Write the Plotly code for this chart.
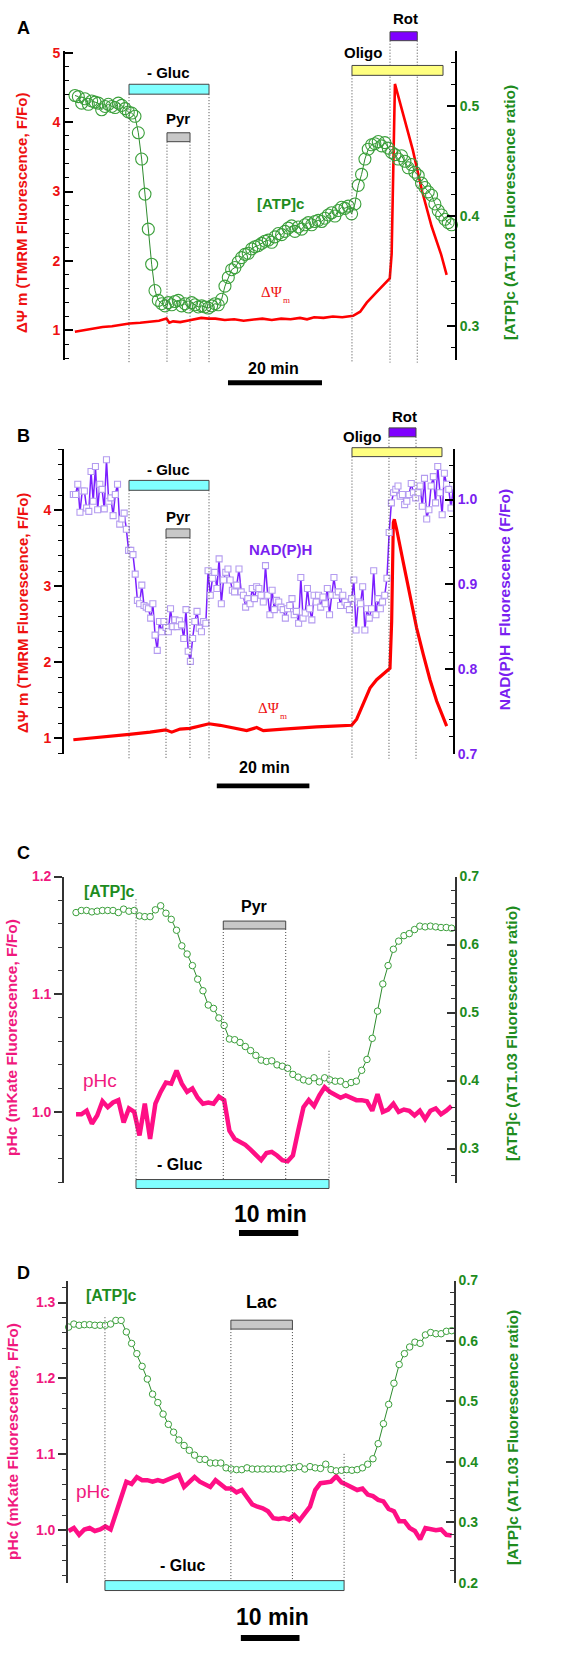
import numpy as np
import plotly.graph_objects as go

W, H = 587, 1653
FONT = "Arial, Liberation Sans, sans-serif"
SERIF = "Liberation Serif, Times New Roman, serif"

RED, RED_T = "#FF0000", "#EE1111"
GREEN_M, GREEN_L, GREEN_T = "#3A9F3A", "#2E8B2E", "#1E8C1E"
PURPLE_L, PURPLE_M, PURPLE_T = "#7B1FFF", "#B49CF0", "#7A1FF0"
PINK, PINK_T = "#FF0F85", "#F0197E"
CYAN, YELLOW, GREY, VIOLET = "#80FFFF", "#FFFF80", "#C8C8C8", "#7F00FF"

# ---------------- Panel A ----------------
atp_a_t0, atp_a_dt = 2.13, 0.709
atp_a = [0.510, 0.509, 0.503, 0.507, 0.502, 0.505, 0.504, 0.503, 0.497, 0.500,
         0.502, 0.500, 0.499, 0.503, 0.501, 0.498, 0.495, 0.494, 0.491, 0.476,
         0.452, 0.420, 0.388, 0.356, 0.332, 0.323, 0.320, 0.318, 0.321, 0.319,
         0.322, 0.323, 0.318, 0.320, 0.317, 0.321, 0.319, 0.317, 0.318, 0.317,
         0.316, 0.318, 0.320, 0.319, 0.324, 0.336, 0.344, 0.351, 0.353, 0.358,
         0.362, 0.365, 0.366, 0.370, 0.372, 0.373, 0.375, 0.377, 0.378, 0.376,
         0.381, 0.384, 0.383, 0.386, 0.389, 0.391, 0.386, 0.390, 0.388, 0.392,
         0.394, 0.392, 0.395, 0.396, 0.395, 0.398, 0.401, 0.403, 0.400, 0.405,
         0.408, 0.407, 0.409, 0.402, 0.411, 0.428, 0.438, 0.452, 0.461, 0.465,
         0.466, 0.468, 0.464, 0.467, 0.462, 0.458, 0.456, 0.452, 0.455, 0.450,
         0.444, 0.447, 0.440, 0.437, 0.430, 0.426, 0.422, 0.419, 0.411, 0.405,
         0.401, 0.397, 0.394, 0.392]
tmrm_a_t = [2.1, 4, 6, 8, 10, 12, 13.7, 16, 18, 20, 21.6, 22.2, 23, 24.5, 26, 28, 29, 30.5,
            32, 34, 36, 38, 40, 42, 44, 46, 48, 50, 51.5, 53, 55, 57, 59, 61.3, 62.8, 64.2,
            66.3, 68.4, 69.1, 69.5, 69.8, 70.0, 70.2, 72, 74, 76, 78, 80, 81.2]
tmrm_a = [0.98, 1.00, 1.03, 1.05, 1.06, 1.08, 1.10, 1.11, 1.13, 1.14, 1.17, 1.11, 1.13, 1.12,
          1.14, 1.16, 1.18, 1.17, 1.17, 1.15, 1.16, 1.14, 1.16, 1.17, 1.15, 1.17, 1.16, 1.18,
          1.16, 1.19, 1.18, 1.20, 1.19, 1.21, 1.27, 1.40, 1.55, 1.70, 1.75, 2.10, 3.20, 4.40,
          4.55, 4.10, 3.60, 3.00, 2.50, 2.10, 1.80]
events_a = {"gluc": (13.62, 30.64), "pyr": (21.70, 26.60), "oligo": (61.06, 80.43), "rot": (69.15, 74.95)}

# ---------------- Panel B ----------------
nadh_b_t0, nadh_b_dt = 2.02, 0.477
nadh_b = [1.006, 1.006, 1.018, 0.985, 1.010, 1.010, 0.990, 0.986, 1.033, 0.998,
          1.039, 0.988, 1.018, 1.012, 0.989, 1.047, 0.998, 1.002, 0.981, 1.006,
          1.018, 0.971, 0.977, 0.984, 0.965, 0.940, 0.940, 0.935, 0.912, 0.881,
          0.877, 0.899, 0.875, 0.873, 0.871, 0.860, 0.877, 0.840, 0.822, 0.856,
          0.844, 0.856, 0.849, 0.844, 0.871, 0.850, 0.858, 0.850, 0.857, 0.852,
          0.836, 0.870, 0.821, 0.809, 0.836, 0.856, 0.868, 0.848, 0.844, 0.856,
          0.854, 0.916, 0.887, 0.907, 0.914, 0.895, 0.930, 0.877, 0.905, 0.914,
          0.918, 0.905, 0.893, 0.891, 0.899, 0.918, 0.891, 0.887, 0.873, 0.883,
          0.877, 0.895, 0.883, 0.897, 0.895, 0.887, 0.879, 0.922, 0.887, 0.864,
          0.893, 0.870, 0.881, 0.879, 0.873, 0.870, 0.860, 0.871, 0.875, 0.883,
          0.864, 0.868, 0.854, 0.908, 0.860, 0.866, 0.895, 0.871, 0.858, 0.887,
          0.879, 0.887, 0.873, 0.885, 0.877, 0.895, 0.864, 0.887, 0.908, 0.887,
          0.891, 0.875, 0.887, 0.879, 0.875, 0.870, 0.883, 0.905, 0.846, 0.879,
          0.877, 0.897, 0.846, 0.871, 0.860, 0.871, 0.916, 0.864, 0.883, 0.871,
          0.879, 0.887, 0.907, 0.961, 0.996, 1.008, 1.012, 1.016, 1.004, 1.006,
          0.994, 0.998, 1.006, 1.019, 1.008, 1.002, 1.008, 1.016, 0.992, 1.025,
          0.977, 0.988, 1.016, 1.027, 0.996, 1.039, 1.008, 0.982, 1.031, 1.018,
          1.012, 0.990, 1.012]
tmrm_b_t = [2.02, 7.78, 14.11, 18.58, 21.96, 23.26, 25.06, 27.22, 29.38, 31.32, 33.70, 36.57,
            39.45, 41.61, 43.05, 47.37, 50.98, 54.57, 58.17, 62.13, 63.21, 64.65, 66.09, 67.53,
            68.97, 70.05, 70.41, 70.77, 71.13, 71.35, 71.85, 73.29, 74.73, 76.17, 77.61, 79.05,
            80.49, 81.57, 82.65]
tmrm_b = [0.98, 1.01, 1.05, 1.08, 1.11, 1.08, 1.12, 1.13, 1.16, 1.19, 1.17, 1.13, 1.10, 1.14,
          1.10, 1.12, 1.14, 1.15, 1.16, 1.17, 1.25, 1.45, 1.66, 1.77, 1.85, 1.90, 1.92, 2.53,
          3.84, 3.88, 3.75, 3.31, 2.88, 2.45, 2.10, 1.77, 1.49, 1.32, 1.16]
events_b = {"gluc": (14.04, 31.32), "pyr": (22.03, 27.21), "oligo": (62.2, 81.64), "rot": (70.19, 76.03)}

# ---------------- Panel C ----------------
c_t0, c_dt = 2.03, 0.892
atp_c = [0.647, 0.650, 0.650, 0.648, 0.649, 0.650, 0.650, 0.650, 0.647, 0.652,
         0.649, 0.650, 0.642, 0.641, 0.641, 0.651, 0.657, 0.646, 0.637, 0.621,
         0.598, 0.586, 0.569, 0.549, 0.532, 0.511, 0.506, 0.492, 0.481, 0.461,
         0.460, 0.456, 0.450, 0.444, 0.437, 0.430, 0.428, 0.429, 0.423, 0.421,
         0.418, 0.409, 0.405, 0.401, 0.399, 0.404, 0.398, 0.404, 0.401, 0.399,
         0.399, 0.394, 0.397, 0.399, 0.415, 0.431, 0.462, 0.502, 0.542, 0.569,
         0.593, 0.605, 0.613, 0.616, 0.622, 0.627, 0.626, 0.627, 0.626, 0.625,
         0.625, 0.624]
ph_c = [0.998, 0.998, 1.001, 0.990, 0.997, 1.009, 1.004, 1.008, 1.010, 0.991,
        1.003, 1.000, 0.980, 1.007, 0.977, 1.007, 1.017, 1.025, 1.024, 1.035,
        1.024, 1.017, 1.020, 1.012, 1.007, 1.008, 1.007, 1.013, 1.010, 0.984,
        0.977, 0.975, 0.972, 0.968, 0.963, 0.959, 0.965, 0.966, 0.963, 0.959,
        0.958, 0.963, 0.984, 1.004, 1.010, 1.005, 1.014, 1.021, 1.017, 1.014,
        1.012, 1.014, 1.012, 1.010, 1.010, 1.009, 1.001, 1.015, 1.000, 1.002,
        1.007, 1.000, 1.002, 1.001, 0.997, 1.001, 0.994, 1.001, 1.003, 0.998,
        1.001, 1.005]
events_c = {"gluc": (12.14, 44.69), "pyr": (26.86, 37.39)}

# ---------------- Panel D ----------------
d_t0, d_dt = 0.11, 0.8945
atp_d = [0.623, 0.628, 0.626, 0.627, 0.627, 0.626, 0.626, 0.626, 0.628, 0.634,
         0.634, 0.615, 0.596, 0.579, 0.558, 0.537, 0.512, 0.498, 0.479, 0.462,
         0.449, 0.436, 0.427, 0.419, 0.411, 0.404, 0.404, 0.398, 0.398, 0.398,
         0.390, 0.388, 0.387, 0.387, 0.390, 0.388, 0.388, 0.388, 0.388, 0.388,
         0.388, 0.388, 0.390, 0.390, 0.392, 0.388, 0.392, 0.390, 0.389, 0.396,
         0.387, 0.385, 0.386, 0.387, 0.386, 0.387, 0.390, 0.396, 0.405, 0.430,
         0.463, 0.495, 0.530, 0.561, 0.579, 0.590, 0.598, 0.596, 0.610, 0.614,
         0.612, 0.612, 0.616, 0.617]
ph_d = [0.999, 1.003, 0.994, 1.001, 1.003, 0.999, 1.001, 1.005, 1.001, 1.023,
        1.044, 1.064, 1.061, 1.070, 1.066, 1.066, 1.064, 1.066, 1.064, 1.067,
        1.071, 1.073, 1.057, 1.064, 1.070, 1.064, 1.061, 1.057, 1.066, 1.061,
        1.055, 1.055, 1.050, 1.053, 1.044, 1.034, 1.031, 1.029, 1.025, 1.016,
        1.015, 1.016, 1.014, 1.020, 1.013, 1.023, 1.031, 1.053, 1.062, 1.063,
        1.064, 1.071, 1.063, 1.060, 1.057, 1.053, 1.055, 1.047, 1.045, 1.040,
        1.038, 1.028, 1.025, 1.012, 1.012, 1.003, 0.999, 0.988, 1.003, 1.001,
        1.000, 1.001, 0.994, 0.993]
events_d = {"gluc": (6.30, 47.07), "lac": (27.77, 38.26)}

scale_a, scale_b, scale_c, scale_d = (34.68, 20), (33.0, 20), (29.51, 10), (29.47, 10)


def times(t0, dt, n):
    return [round(t0 + dt * i, 3) for i in range(n)]


def yp(p):
    return 1 - p / H


def xp(p):
    return p / W


fig = go.Figure()
layout = dict(width=W, height=H, autosize=False, margin=dict(l=0, r=0, t=0, b=0),
              paper_bgcolor="white", plot_bgcolor="white", showlegend=False)


def add_axes(i, xdom, ydom, xr, yl, yl_fmt, yl_dtick, yl_minor, yl_col, yl_ticks,
             yr, yr_dtick, yr_minor, yr_col, axcol, axw):
    xa = "xaxis" if i == 1 else f"xaxis{i}"
    yla = "yaxis" if i == 1 else f"yaxis{2 * i - 1}"
    yra = f"yaxis{2 * i}"
    xs = "x" if i == 1 else f"x{i}"
    yls = "y" if i == 1 else f"y{2 * i - 1}"
    layout[xa] = dict(domain=[xp(xdom[0]), xp(xdom[1])], range=list(xr), visible=False,
                      anchor=yls, fixedrange=True)
    common = dict(showgrid=False, zeroline=False, showline=True, linecolor=axcol, linewidth=axw,
                  ticklen=8, tickwidth=1.6, tickcolor=axcol, anchor=xs, fixedrange=True)
    layout[yla] = dict(domain=[yp(ydom[1]), yp(ydom[0])], range=list(yl), side="left",
                       tick0=0, dtick=yl_dtick, tickformat=yl_fmt, ticks=yl_ticks,
                       tickfont=dict(family=FONT, size=14, color=yl_col, weight="bold"),
                       minor=dict(dtick=yl_minor, tick0=0, ticks=yl_ticks, ticklen=4,
                                  tickwidth=1.4, tickcolor=axcol),
                       **common)
    layout[yra] = dict(range=list(yr), side="right", overlaying=yls,
                       tick0=0, dtick=yr_dtick, tickformat=".1f", ticks="inside",
                       tickfont=dict(family=FONT, size=14, color=yr_col, weight="bold"),
                       minor=dict(dtick=yr_minor, tick0=0, ticks="inside", ticklen=4,
                                  tickwidth=1.4, tickcolor=axcol),
                       **common)
    return xs, yls, f"y{2 * i}"


xa1, ya1, yb1 = add_axes(1, (65, 455), (43, 355), (0, 82.98), (0.58, 5.03), "d", 1, 0.2, RED_T,
                         "inside", (0.269, 0.551), 0.1, 0.02, GREEN_T, "black", 2)
xa2, ya2, yb2 = add_axes(2, (64, 453), (445, 753), (0, 84.02), (0.796, 4.81), "d", 1, 0.2, RED_T,
                         "outside", (0.70, 1.06), 0.1, 0.02, PURPLE_T, "black", 2)
xa3, ya3, yb3 = add_axes(3, (64, 455), (877, 1186), (0, 65.94), (0.940, 1.2), ".1f", 0.1, 0.02,
                         PINK_T, "outside", (0.25, 0.7), 0.1, 0.02, GREEN_T, "#333333", 1.6)
xa4, ya4, yb4 = add_axes(4, (68, 454), (1285, 1590), (0, 65.81), (0.931, 1.329), ".1f", 0.1, 0.02,
                         PINK_T, "outside", (0.2, 0.7), 0.1, 0.02, GREEN_T, "#333333", 1.6)

# traces
fig.add_trace(go.Scatter(x=times(atp_a_t0, atp_a_dt, len(atp_a)), y=atp_a, xaxis=xa1, yaxis=yb1,
                         mode="lines+markers", cliponaxis=False,
                         line=dict(color=GREEN_L, width=1),
                         marker=dict(symbol="circle-open", size=12, color=GREEN_M,
                                     line=dict(width=1.1, color=GREEN_M))))
fig.add_trace(go.Scatter(x=tmrm_a_t, y=tmrm_a, xaxis=xa1, yaxis=ya1, mode="lines",
                         line=dict(color=RED, width=2.6)))

fig.add_trace(go.Scatter(x=times(nadh_b_t0, nadh_b_dt, len(nadh_b)), y=nadh_b, xaxis=xa2, yaxis=yb2,
                         mode="lines+markers", cliponaxis=False,
                         line=dict(color=PURPLE_L, width=1.5),
                         marker=dict(symbol="square", size=6, color="white",
                                     line=dict(width=1.1, color=PURPLE_M))))
fig.add_trace(go.Scatter(x=tmrm_b_t, y=tmrm_b, xaxis=xa2, yaxis=ya2, mode="lines",
                         line=dict(color=RED, width=3.2)))

fig.add_trace(go.Scatter(x=times(c_t0, c_dt, len(atp_c)), y=atp_c, xaxis=xa3, yaxis=yb3,
                         mode="lines+markers", cliponaxis=False,
                         line=dict(color=GREEN_L, width=1),
                         marker=dict(symbol="circle", size=6.5, color="white",
                                     line=dict(width=1, color=GREEN_M))))
fig.add_trace(go.Scatter(x=times(c_t0, c_dt, len(ph_c)), y=ph_c, xaxis=xa3, yaxis=ya3, mode="lines",
                         cliponaxis=False, line=dict(color=PINK, width=4.5)))

fig.add_trace(go.Scatter(x=times(d_t0, d_dt, len(atp_d)), y=atp_d, xaxis=xa4, yaxis=yb4,
                         mode="lines+markers", cliponaxis=False,
                         line=dict(color=GREEN_L, width=1),
                         marker=dict(symbol="circle", size=6.5, color="white",
                                     line=dict(width=1, color=GREEN_M))))
fig.add_trace(go.Scatter(x=times(d_t0, d_dt, len(ph_d)), y=ph_d, xaxis=xa4, yaxis=ya4, mode="lines",
                         cliponaxis=False, line=dict(color=PINK, width=4.5)))

shapes = []


def vline(xref, t, top, bottom):
    shapes.append(dict(type="line", xref=xref, yref="paper", x0=t, x1=t, y0=yp(top), y1=yp(bottom),
                       line=dict(color="#444444", width=1, dash="1px,2px")))


def bar(xref, span, top, bottom, color):
    shapes.append(dict(type="rect", xref=xref, yref="paper", x0=span[0], x1=span[1],
                       y0=yp(bottom), y1=yp(top), fillcolor=color,
                       line=dict(color="#444444", width=1)))


def scalebar(xref, sb, top, bottom):
    shapes.append(dict(type="rect", xref=xref, yref="paper", x0=sb[0], x1=sb[0] + sb[1],
                       y0=yp(bottom), y1=yp(top), fillcolor="black", line=dict(width=0)))


# Panel A shapes
for t, top in [(events_a["gluc"][0], 87), (events_a["pyr"][0], 135), (events_a["pyr"][1], 135),
               (events_a["gluc"][1], 87), (events_a["oligo"][0], 68), (events_a["rot"][0], 33),
               (events_a["rot"][1], 33)]:
    vline(xa1, t, top, 358)
bar(xa1, events_a["gluc"], 77, 87, CYAN)
bar(xa1, events_a["pyr"], 126, 135, GREY)
bar(xa1, events_a["oligo"], 58, 68, YELLOW)
bar(xa1, events_a["rot"], 24, 33, VIOLET)
scalebar(xa1, scale_a, 376, 381)

# Panel B shapes
for t, top in [(events_b["gluc"][0], 487), (events_b["pyr"][0], 535), (events_b["pyr"][1], 535),
               (events_b["gluc"][1], 487), (events_b["oligo"][0], 453), (events_b["rot"][0], 433),
               (events_b["rot"][1], 433)]:
    vline(xa2, t, top, 758)
bar(xa2, events_b["gluc"], 477, 487, CYAN)
bar(xa2, events_b["pyr"], 526, 535, GREY)
bar(xa2, events_b["oligo"], 444, 453, YELLOW)
bar(xa2, events_b["rot"], 424, 433, VIOLET)
scalebar(xa2, scale_b, 783, 788)

# Panel C shapes
for t, top in [(events_c["gluc"][0], 900), (events_c["pyr"][0], 930), (events_c["pyr"][1], 930),
               (events_c["gluc"][1], 1053)]:
    vline(xa3, t, top, 1183)
bar(xa3, events_c["pyr"], 922, 930, GREY)
bar(xa3, events_c["gluc"], 1183, 1192, CYAN)
scalebar(xa3, scale_c, 1234, 1240)

# Panel D shapes
for t, top in [(events_d["gluc"][0], 1322), (events_d["lac"][0], 1334), (events_d["lac"][1], 1334),
               (events_d["gluc"][1], 1460)]:
    vline(xa4, t, top, 1588)
bar(xa4, events_d["lac"], 1325, 1334, GREY)
bar(xa4, events_d["gluc"], 1588, 1598, CYAN)
scalebar(xa4, scale_d, 1643, 1649)

anns = []


def ann(text, cx, cy, size, color="black", bold=True, angle=0, family=FONT):
    anns.append(dict(text=text, x=xp(cx), y=yp(cy), xref="paper", yref="paper",
                     xanchor="center", yanchor="middle", showarrow=False, textangle=angle,
                     font=dict(family=family, size=size, color=color,
                               weight="bold" if bold else "normal")))


def dpsi_label(cx, cy):
    ann("ΔΨ", cx - 4, cy - 3, 15, RED_T, bold=False, family=SERIF)
    ann("m", cx + 10, cy + 5, 9, RED_T, bold=False, family=SERIF)


# Panel A
ann("A", 23, 20, 18)
ann("- Gluc", 168, 65, 15)
ann("Pyr", 178, 112, 15)
ann("Oligo", 363, 45, 15)
ann("Rot", 405, 11, 15)
ann("[ATP]c", 280, 197, 15, GREEN_T)
dpsi_label(276, 290)
ann("20 min", 273, 364, 16)
ann("ΔΨ m (TMRM Fluorescence, F/Fo)", 22, 207, 15, RED_T, angle=-90)
ann("[ATP]c (AT1.03 Fluorescence ratio)", 510, 207, 15.5, GREEN_T, angle=-90)
# Panel B
ann("B", 23, 432, 18)
ann("- Gluc", 168, 466, 15)
ann("Pyr", 178, 513, 15)
ann("Oligo", 362, 433, 15)
ann("Rot", 404, 412, 15)
ann("NAD(P)H", 280, 547, 15, PURPLE_T)
dpsi_label(273, 710)
ann("20 min", 264, 767, 16)
ann("ΔΨ m (TMRM Fluorescence, F/Fo)", 22, 611, 15, RED_T, angle=-90)
ann("NAD(P)H  Fluorescence (F/Fo)", 504, 598, 15.5, PURPLE_T, angle=-90)
# Panel C
ann("C", 23, 853, 18)
ann("Pyr", 254, 907, 16)
ann("- Gluc", 179, 1168, 16)
ann("[ATP]c", 109, 892, 16, GREEN_T)
ann("pHc", 100, 1083, 19, PINK_T, bold=False)
ann("10 min", 270, 1218, 23)
ann("pHc (mKate Fluorescence, F/Fo)", 12, 1040, 15.5, PINK_T, angle=-90)
ann("[ATP]c (AT1.03 Fluorescence ratio)", 512, 1036, 15.5, GREEN_T, angle=-90)
# Panel D
ann("D", 23, 1277, 18)
ann("Lac", 261, 1307, 18)
ann("- Gluc", 182, 1573, 16)
ann("[ATP]c", 111, 1300, 16, GREEN_T)
ann("pHc", 93, 1498, 19, PINK_T, bold=False)
ann("10 min", 272, 1625, 23)
ann("pHc (mKate Fluorescence, F/Fo)", 13, 1448, 15.5, PINK_T, angle=-90)
ann("[ATP]c (AT1.03 Fluorescence ratio)", 512, 1444, 15.5, GREEN_T, angle=-90)

layout["shapes"] = shapes
layout["annotations"] = anns
fig.update_layout(**layout)
fig.write_html("out.html", config={"displayModeBar": False},
               post_script="document.body.style.margin='0';document.body.style.overflow='hidden';")
